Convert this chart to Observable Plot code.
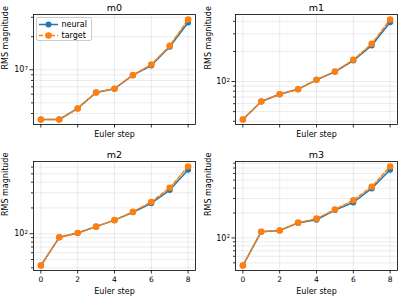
<!DOCTYPE html>
<html>
<head>
<meta charset="utf-8">
<script src="https://cdn.jsdelivr.net/npm/d3@7"></script>
<script src="https://cdn.jsdelivr.net/npm/@observablehq/plot@0.6"></script>
<style>
  html, body { margin: 0; padding: 0; background: #fff; }
  #fig { position: relative; width: 400px; height: 296px; overflow: hidden; font-family: "DejaVu Sans", sans-serif; }
  #fig > svg, #fig > div { position: absolute; }
</style>
</head>
<body>
<div id="fig"></div>
<script>
// Euler steps on the x axis
const steps = [0, 1, 2, 3, 4, 5, 6, 7, 8];
const xTicks = [0, 2, 4, 6, 8];

// RMS magnitude per step, network output vs. reference integrator
const m0Neural = [3.53e6, 3.53e6, 4.45e6, 6.22e6, 6.73e6, 8.93e6, 1.094e7, 1.618e7, 2.69e7];
const m0Target = [3.53e6, 3.53e6, 4.45e6, 6.22e6, 6.73e6, 8.93e6, 1.117e7, 1.652e7, 2.865e7];
const m1Neural = [41.7, 63.1, 74.6, 83.8, 104, 125, 162, 229, 392];
const m1Target = [41.7, 63.1, 74.6, 83.8, 104, 126, 165, 238, 417];
const m2Neural = [42.5, 90.7, 101.9, 121, 144, 178, 227, 323, 558];
const m2Target = [42.5, 90.7, 101.9, 121, 144, 180, 235, 344, 610];
const m3Neural = [46.4, 118.9, 123, 152, 166, 217, 268, 397, 668];
const m3Target = [46.4, 118.9, 123, 153, 171, 221, 286, 416, 731];

// Labelled decade ticks per panel
const m0Major = [1e7];
const m1Major = [1e2];
const m2Major = [1e2];
const m3Major = [1e2];

const panelTitles = ["m0", "m1", "m2", "m3"];
const seriesNames = ["neural", "target"];

const BLUE = "#1f77b4";
const ORANGE = "#ff7f0e";
const FONT = "DejaVu Sans, sans-serif";

// "10^k" placeholder, rewritten into a raised exponent after rendering
const fmtPow = d => "10^" + Math.round(Math.log10(d));

function raiseExponents(svg) {
  svg.querySelectorAll("text").forEach(t => {
    const m = /^10\^(-?\d+)$/.exec(t.textContent);
    if (!m) return;
    t.textContent = "10";
    const s = document.createElementNS("http://www.w3.org/2000/svg", "tspan");
    s.setAttribute("dy", "-0.45em");
    s.setAttribute("font-size", "5.6");
    s.textContent = m[1];
    t.appendChild(s);
  });
}

function logDomain(values) {
  const lo = Math.log10(d3.min(values)), hi = Math.log10(d3.max(values));
  const pad = (hi - lo) * 0.05;
  return [10 ** (lo - pad), 10 ** (hi + pad)];
}

function minorTicks([a, b]) {
  const out = [];
  for (let e = Math.floor(Math.log10(a)); e <= Math.ceil(Math.log10(b)); e++) {
    for (let k = 2; k <= 9; k++) {
      const v = k * 10 ** e;
      if (v >= a && v <= b) out.push(v);
    }
  }
  return out;
}

const panels = [
  {title: panelTitles[0], neural: m0Neural, target: m0Target, major: m0Major, left: 0,   top: 0,   ml: 33, mr: 5, mt: 14, mb: 24, bottomRow: false},
  {title: panelTitles[1], neural: m1Neural, target: m1Target, major: m1Major, left: 200, top: 0,   ml: 35, mr: 3, mt: 14, mb: 24, bottomRow: false},
  {title: panelTitles[2], neural: m2Neural, target: m2Target, major: m2Major, left: 0,   top: 148, ml: 33, mr: 5, mt: 13, mb: 26, bottomRow: true},
  {title: panelTitles[3], neural: m3Neural, target: m3Target, major: m3Major, left: 200, top: 148, ml: 35, mr: 3, mt: 13, mb: 26, bottomRow: true}
];

const fig = document.getElementById("fig");

for (const p of panels) {
  const rows = steps.map((s, i) => ({step: s, neural: p.neural[i], target: p.target[i]}));
  const domain = logDomain([...p.neural, ...p.target]);
  const minor = minorTicks(domain);

  const svg = Plot.plot({
    width: 200,
    height: 148,
    marginLeft: p.ml,
    marginRight: p.mr,
    marginTop: p.mt,
    marginBottom: p.mb,
    style: {fontFamily: FONT, fontSize: "7.5px", background: "transparent", overflow: "visible", color: "#000"},
    x: {domain: [-0.4, 8.4], label: null},
    y: {type: "log", domain, label: null},
    marks: [
      Plot.gridX(xTicks, {stroke: "#000", strokeOpacity: 0.1, strokeWidth: 0.8}),
      Plot.gridY([...p.major, ...minor], {stroke: "#000", strokeOpacity: 0.1, strokeWidth: 0.8}),
      Plot.axisY(minor, {tickSize: 2, tickFormat: () => "", strokeWidth: 0.8, label: null}),
      Plot.axisY(p.major, {tickSize: 3.5, tickPadding: 2, tickFormat: fmtPow, fontSize: 8, strokeWidth: 0.8, label: null}),
      Plot.axisX(xTicks, {tickSize: 3.5, tickPadding: 2.5, tickFormat: p.bottomRow ? (d => String(d)) : (() => ""), fontSize: 7.5, strokeWidth: 0.8, label: null}),
      Plot.line(rows, {x: "step", y: "neural", stroke: BLUE, strokeWidth: 1.5}),
      Plot.dot(rows, {x: "step", y: "neural", fill: BLUE, r: 3}),
      Plot.line(rows, {x: "step", y: "target", stroke: ORANGE, strokeWidth: 1.5, strokeDasharray: "4,2"}),
      Plot.dot(rows, {x: "step", y: "target", fill: ORANGE, r: 3.3}),
      Plot.frame({stroke: "#000", strokeWidth: 0.8}),
      Plot.text([p.title], {frameAnchor: "top", dy: -7, lineAnchor: "middle", fontSize: 9.5, text: d => d}),
      Plot.text(["Euler step"], {frameAnchor: "bottom", dy: p.bottomRow ? 21 : 9.5, lineAnchor: "middle", fontSize: 8, text: d => d}),
      Plot.text(["RMS magnitude"], {frameAnchor: "left", dx: p.ml === 33 ? -28 : -27, rotate: -90, lineAnchor: "middle", fontSize: 8, text: d => d})
    ]
  });
  raiseExponents(svg);
  svg.style.left = p.left + "px";
  svg.style.top = p.top + "px";
  fig.appendChild(svg);
}

// Legend for the first panel
const legend = document.createElement("div");
legend.style.cssText = "left:35.5px;top:16.5px;width:56px;height:24px;box-sizing:border-box;border:0.8px solid #ccc;border-radius:2px;background:rgba(255,255,255,0.85);";
const ns = "http://www.w3.org/2000/svg";
const lsvg = document.createElementNS(ns, "svg");
lsvg.setAttribute("width", "56");
lsvg.setAttribute("height", "24");
lsvg.style.cssText = "position:absolute;left:-0.8px;top:-0.8px;overflow:visible";
[[BLUE, null, 3, 7.5], [ORANGE, "4,2", 3.3, 18.5]].forEach(([c, dash, r, y], i) => {
  const ln = document.createElementNS(ns, "line");
  ln.setAttribute("x1", 3); ln.setAttribute("x2", 22);
  ln.setAttribute("y1", y); ln.setAttribute("y2", y);
  ln.setAttribute("stroke", c); ln.setAttribute("stroke-width", 1.5);
  if (dash) ln.setAttribute("stroke-dasharray", dash);
  lsvg.appendChild(ln);
  const ci = document.createElementNS(ns, "circle");
  ci.setAttribute("cx", 12.5); ci.setAttribute("cy", y); ci.setAttribute("r", r);
  ci.setAttribute("fill", c);
  lsvg.appendChild(ci);
  const t = document.createElementNS(ns, "text");
  t.setAttribute("x", 25.5); t.setAttribute("y", y);
  t.setAttribute("dy", "0.35em");
  t.setAttribute("font-size", "8");
  t.setAttribute("font-family", FONT);
  t.textContent = seriesNames[i];
  lsvg.appendChild(t);
});
legend.appendChild(lsvg);
fig.appendChild(legend);
</script>
</body>
</html>
